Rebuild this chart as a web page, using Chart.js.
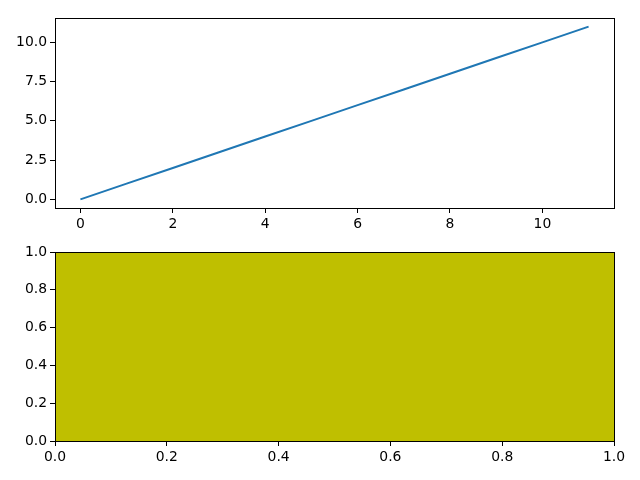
<!DOCTYPE html>
<html>
<head>
<meta charset="utf-8">
<script src="https://cdn.jsdelivr.net/npm/chart.js@4/dist/chart.umd.min.js"></script>
<style>
html,body{margin:0;padding:0;background:#fff;width:640px;height:480px;overflow:hidden}
canvas{position:absolute;left:0}
#c1{top:0}
#c2{top:240px}
</style>
</head>
<body>
<canvas id="c1" width="640" height="240"></canvas>
<canvas id="c2" width="640" height="240"></canvas>
<script>
const xValues = [0,1,2,3,4,5,6,7,8,9,10,11];
const yValues = [0,1,2,3,4,5,6,7,8,9,10,11];
const topXTicks = [0,2,4,6,8,10];
const topYTicks = [0,2.5,5,7.5,10];
const bottomTicks = [0,0.2,0.4,0.6,0.8,1.0];

Chart.defaults.color = '#000';
Chart.defaults.font.family = 'DejaVu Sans';
Chart.defaults.font.size = 13.9;

const framePlugin = {
  id: 'frame',
  beforeDraw(chart, args, opts) {
    if (opts.fill) {
      const a = chart.chartArea, ctx = chart.ctx;
      ctx.save(); ctx.fillStyle = opts.fill;
      ctx.fillRect(a.left, a.top, a.right - a.left, a.bottom - a.top);
      ctx.restore();
    }
  },
  afterDraw(chart) {
    const a = chart.chartArea, ctx = chart.ctx;
    ctx.save(); ctx.strokeStyle = '#000'; ctx.lineWidth = 1;
    ctx.strokeRect(Math.round(a.left)+0.5, Math.round(a.top)+0.5, Math.round(a.right-a.left), Math.round(a.bottom-a.top));
    ctx.restore();
  }
};

function axis(pos, min, max, ticks, size, fmt) {
  return {
    type: 'linear', position: pos, min: min, max: max,
    afterBuildTicks: s => { s.ticks = ticks.map(v => ({value: v})); },
    afterFit: s => { if (pos === 'left') s.width = size; else s.height = size; },
    border: {display: true, color: '#000', width: 1},
    grid: {display: true, drawOnChartArea: false, drawTicks: true, tickLength: 5, tickColor: '#000'},
    ticks: {padding: 3, maxRotation: 0, autoSkip: false, callback: fmt}
  };
}

new Chart(document.getElementById('c1'), {
  type: 'scatter',
  data: {datasets: [{
    data: xValues.map((x, i) => ({x: x, y: yValues[i]})),
    showLine: true, borderColor: '#1f77b4', borderWidth: 2, pointRadius: 0, tension: 0, fill: false
  }]},
  options: {
    responsive: false, animation: false,
    layout: {padding: {left: 0, right: 26, top: 18, bottom: 0}},
    plugins: {legend: {display: false}, tooltip: {enabled: false}, frame: {}},
    scales: {
      x: axis('bottom', -0.55, 11.55, topXTicks, 32, v => String(v)),
      y: axis('left', -0.55, 11.55, topYTicks, 55, v => v.toFixed(1))
    }
  },
  plugins: [framePlugin]
});

new Chart(document.getElementById('c2'), {
  type: 'scatter',
  data: {datasets: [{data: []}]},
  options: {
    responsive: false, animation: false,
    layout: {padding: {left: 0, right: 26, top: 12, bottom: 0}},
    plugins: {legend: {display: false}, tooltip: {enabled: false}, frame: {fill: '#bfbf00'}},
    scales: {
      x: axis('bottom', 0, 1, bottomTicks, 39, v => v.toFixed(1)),
      y: axis('left', 0, 1, bottomTicks, 55, v => v.toFixed(1))
    }
  },
  plugins: [framePlugin]
});
</script>
</body>
</html>
